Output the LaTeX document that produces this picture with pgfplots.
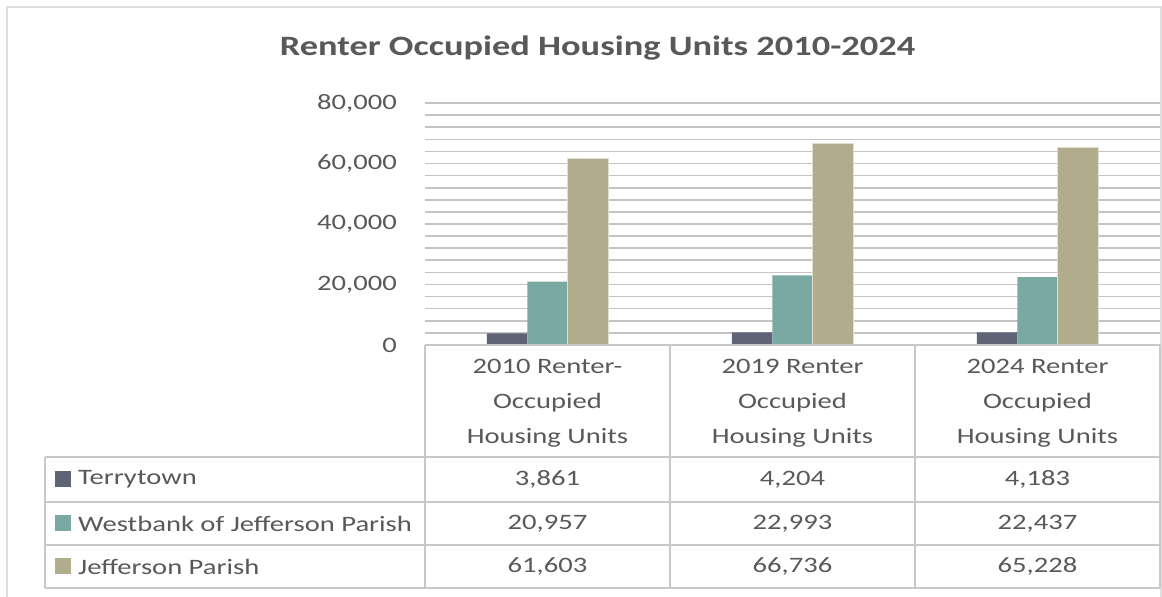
\documentclass[border=0pt]{standalone}
\usepackage{fontspec}
\setmainfont{Carlito}[FakeStretch=1.3]
\usepackage{pgfplots}
\pgfplotsset{compat=1.18}
\definecolor{txt}{RGB}{89,89,89}
\definecolor{gridc}{RGB}{196,196,196}
\definecolor{tline}{RGB}{200,200,200}
\definecolor{cT}{RGB}{95,99,118}
\definecolor{cW}{RGB}{122,168,163}
\definecolor{cJ}{RGB}{176,172,140}
\begin{document}
\begin{tikzpicture}[x=1pt,y=1pt]
\useasboundingbox[fill=white] (0,0) rectangle (1162,597);
\draw[color={rgb,255:red,222;green,222;blue,224}, line width=1.5pt] (7,0) -- (7,590) -- (1161,590) -- (1161,0);
\node[text=txt, font=\fontsize{28pt}{34pt}\selectfont\bfseries] at (597.5,549) {Renter Occupied Housing Units 2010-2024};
\begin{axis}[
  at={(425pt,252pt)}, anchor=south west,
  scale only axis, width=735pt, height=242pt,
  xmin=-0.5, xmax=2.5, ymin=0, ymax=80000,
  ybar=0pt, bar width=40.5pt,
  axis line style={draw=none}, tick style={draw=none},
  major tick length=0pt, minor tick length=0pt,
  ytick={0,20000,40000,60000,80000},
  minor y tick num=4,
  xmajorgrids=false, ymajorgrids=true, yminorgrids=true,
  major grid style={draw=gridc, line width=1.6pt},
  minor grid style={draw=gridc, line width=1.6pt},
  scaled y ticks=false,
  /pgf/number format/.cd, 1000 sep={,}, assume math mode=true, /pgfplots/.cd,
  yticklabel style={text=txt, font=\fontsize{22pt}{26pt}\selectfont, inner sep=0pt, xshift=-28pt},
  xtick={0,1,2},
  xticklabels={{2010 Renter-\\Occupied\\Housing Units},{2019 Renter\\Occupied\\Housing Units},{2024 Renter\\Occupied\\Housing Units}},
  xticklabel style={text=txt, font=\fontsize{22pt}{35pt}\selectfont, align=center, anchor=north, inner sep=0pt, yshift=-14pt},
  clip=false,
]
\addplot[fill=cT, draw=none] coordinates {(0,3861) (1,4204) (2,4183)};
\addplot[fill=cW, draw=none] coordinates {(0,20957) (1,22993) (2,22437)};
\addplot[fill=cJ, draw={rgb,255:red,225;green,222;blue,205}, line width=1pt] coordinates {(0,61603) (1,66736) (2,65228)};
\end{axis}
% data table grid
\begin{scope}[tline, line width=1.6pt]
\draw (425,252) -- (1160,252);
\draw (45,140) -- (1160,140);
\draw (45,95) -- (1160,95);
\draw (45,52) -- (1160,52);
\draw (45,9) -- (1160,9);
\draw (45,140) -- (45,9);
\foreach \xx in {425,670,915,1160} \draw (\xx,252) -- (\xx,9);
\end{scope}
\begin{scope}[every node/.style={text=txt, font=\fontsize{22pt}{26pt}\selectfont, inner sep=0pt}]
\fill[cT] (55,110) rectangle (71,126);
\fill[cW] (55,66) rectangle (71,82);
\fill[cJ] (55,23) rectangle (71,39);
\node[anchor=west] at (78,117.5) {Terrytown};
\node[anchor=west] at (78,73.5) {Westbank of Jefferson Parish};
\node[anchor=west] at (78,30.5) {Jefferson Parish};
\node at (547.5,117.5) {3,861};
\node at (792.5,117.5) {4,204};
\node at (1037.5,117.5) {4,183};
\node at (547.5,73.5) {20,957};
\node at (792.5,73.5) {22,993};
\node at (1037.5,73.5) {22,437};
\node at (547.5,30.5) {61,603};
\node at (792.5,30.5) {66,736};
\node at (1037.5,30.5) {65,228};
\end{scope}
\end{tikzpicture}
\end{document}
